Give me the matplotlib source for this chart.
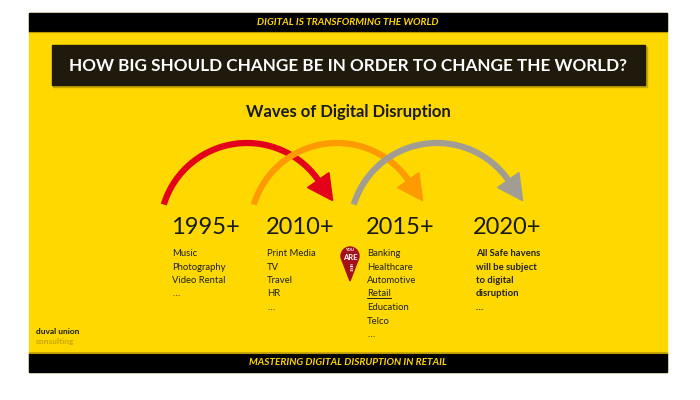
import matplotlib
matplotlib.use("Agg")
import numpy as np
import matplotlib.pyplot as plt
from matplotlib.patches import Rectangle, Circle, Polygon

plt.rcParams['font.family'] = ['Lato', 'DejaVu Sans']

# slide content
top_banner = "DIGITAL IS TRANSFORMING THE WORLD"
headline = "HOW BIG SHOULD CHANGE BE IN ORDER TO CHANGE THE WORLD?"
subtitle = "Waves of Digital Disruption"
bottom_banner = "MASTERING DIGITAL DISRUPTION IN RETAIL"

years = ["1995+", "2010+", "2015+", "2020+"]
items_1995 = ["Music", "Photography", "Video Rental", "…"]
items_2010 = ["Print Media", "TV", "Travel", "HR", "…"]
items_2015 = ["Banking", "Healthcare", "Automotive", "Retail", "Education", "Telco", "…"]
items_2020 = ["All Safe havens", "will be subject", "to digital", "disruption", "…"]
wave_items = [items_1995, items_2010, items_2015, items_2020]
arrow_colors = ["#E2001A", "#FF9A00", "#A19D93"]

YELLOW = "#FFD800"

fig = plt.figure(figsize=(7, 4), dpi=100)
ax = fig.add_axes([0, 0, 1, 1])
ax.set_xlim(0, 700)
ax.set_ylim(400, 0)
ax.axis("off")

# slide background + bars
ax.add_patch(Rectangle((29, 13), 638, 359, color=YELLOW, zorder=0))
ax.add_patch(Rectangle((29, 13), 638, 18, color="black", zorder=1))
ax.add_patch(Rectangle((29, 353), 638, 19, color="black", zorder=1))
ax.plot([29, 667], [31.5, 31.5], color="#B89A00", lw=0.8, zorder=1)
ax.plot([29, 667], [352.5, 352.5], color="#B89A00", lw=0.8, zorder=1)

ax.text(348, 22.5, top_banner, color=YELLOW, fontsize=7.2, fontweight="bold",
        fontstyle="italic", ha="center", va="center")
ax.text(348, 362.5, bottom_banner, color=YELLOW, fontsize=7.2, fontweight="bold",
        fontstyle="italic", ha="center", va="center")

# headline box
ax.add_patch(Rectangle((53, 47), 594, 40, color="#C9A800", zorder=1))
ax.add_patch(Rectangle((52, 45), 593, 40, color="#1F1A0C", zorder=2))
ax.text(348, 66, headline, color="white", fontsize=12.3, fontweight="bold",
        ha="center", va="center", zorder=3)

ax.text(348, 112, subtitle, color="#1A1A1A", fontsize=12, fontweight="bold",
        ha="center", va="center")

# waves: circular arcs ending in a triangular head
arc_centers = [247, 337, 437]
cy, r = 230, 87
a_start, a_end = 163, 35
head_len, head_half = 25, 13
for i, c in enumerate(arrow_colors):
    cx = arc_centers[i]
    th = np.radians(np.linspace(a_start, a_end, 80))
    ax.plot(cx + r * np.cos(th), cy - r * np.sin(th), color=c, lw=4.5,
            solid_capstyle="butt", zorder=3 + i)
    te = np.radians(a_end)
    base = np.array([cx + r * np.cos(te), cy - r * np.sin(te)])
    d = np.array([np.sin(te), np.cos(te)])      # tangent, pointing down-right
    n = np.array([-d[1], d[0]])
    tip = base + head_len * d
    ax.add_patch(Polygon([base + head_half * n, tip, base - head_half * n],
                         closed=True, color=c, zorder=3 + i))

x_cols = [172, 267, 367, 474]
for i, (yr, items) in enumerate(zip(years, wave_items)):
    ax.text(x_cols[i] - 1, 228, yr, fontsize=17, color="#1A1A1A", ha="left",
            va="center")
    bold = (i == 3)
    xi = x_cols[i] + (2 if bold else 0)
    for j, it in enumerate(items):
        t = ax.text(xi, 253.5 + j * 13.5, it, fontsize=6.8, color="#222222",
                    ha="left", va="center",
                    fontweight="bold" if bold else "normal")
        if it == "Retail":
            retail_text = t

# underline Retail
fig.canvas.draw()
bb = retail_text.get_window_extent().transformed(ax.transData.inverted())
ax.plot([bb.x0, bb.x1], [bb.y0 - 1, bb.y0 - 1], color="#222222", lw=0.7)

# "you are here" pin
PIN = "#A3121C"
ax.add_patch(Circle((350, 256), 9, color=PIN, zorder=5))
ax.add_patch(Polygon([[342, 260], [358, 260], [350, 281]], closed=True,
                     color=PIN, zorder=5))
ax.text(350, 250, "YOU", color="white", fontsize=3, fontweight="bold",
        ha="center", va="center", zorder=6)
ax.text(350, 257, "ARE", color="white", fontsize=5.5, fontweight="bold",
        ha="center", va="center", zorder=6)
ax.text(350, 267, "HERE", color="white", fontsize=2.5, fontweight="bold",
        ha="center", va="center", rotation=-90, zorder=6)

# logo
ax.text(36, 332, "duval union", fontsize=6, fontweight="bold", color="#1A1A1A",
        ha="left", va="center")
ax.text(36, 341.5, "consulting", fontsize=6, fontweight="bold", color="#C9A600",
        ha="left", va="center")

fig.savefig("out.png", dpi=100, facecolor="white")
